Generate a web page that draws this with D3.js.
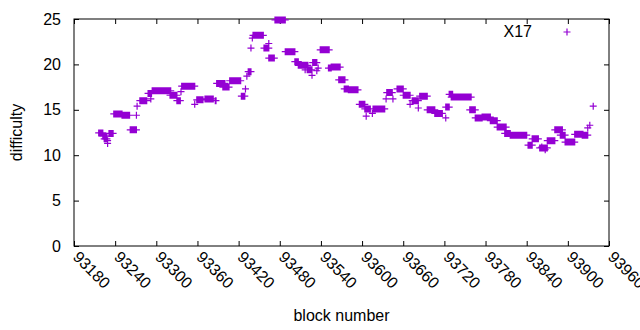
<!DOCTYPE html>
<html>
<head>
<meta charset="utf-8">
<script src="https://cdn.jsdelivr.net/npm/d3@7"></script>
<style>
  body { margin: 0; background: #fff; }
  text { font-family: "Liberation Sans", Arial, sans-serif; font-size: 16px; fill: #000; }
</style>
</head>
<body>
<div id="chart"></div>
<script>
// difficulty plateaus: first block, last block, difficulty
let runStart = [93216, 93222, 93224, 93229, 93229, 93231, 93238, 93250, 93271, 93262, 93272, 93276, 93292, 93288,
  93294, 93320, 93330, 93336, 93337, 93356, 93359, 93371, 93386, 93388, 93397, 93407, 93424, 93430, 93432, 93434,
  93438, 93440, 93441, 93457, 93464, 93464, 93473, 93488, 93502, 93507, 93517, 93520, 93527, 93528, 93536, 93534,
  93539, 93551, 93555, 93566, 93574, 93580, 93596, 93604, 93606, 93615, 93616, 93635, 93636, 93645, 93651, 93660,
  93670, 93673, 93682, 93684, 93695, 93706, 93722, 93722, 93727, 93730, 93757, 93765, 93775, 93787, 93797, 93808,
  93816, 93842, 93848, 93862, 93859, 93867, 93870, 93881, 93889, 93896, 93910, 93921, 93929, 93932, 93937];
let runEnd = [93222, 93228, 93228, 93229, 93229, 93237, 93250, 93261, 93271, 93271, 93272, 93286, 93292, 93293,
  93321, 93330, 93335, 93336, 93356, 93356, 93368, 93383, 93387, 93400, 93406, 93423, 93429, 93430, 93432, 93438,
  93438, 93440, 93456, 93464, 93464, 93472, 93488, 93502, 93507, 93521, 93517, 93527, 93527, 93534, 93536, 93534,
  93552, 93555, 93568, 93575, 93580, 93594, 93604, 93612, 93606, 93615, 93633, 93635, 93644, 93645, 93660, 93670,
  93670, 93682, 93682, 93695, 93706, 93717, 93722, 93727, 93732, 93759, 93765, 93775, 93787, 93797, 93810, 93816,
  93840, 93848, 93857, 93862, 93870, 93867, 93881, 93892, 93896, 93910, 93922, 93929, 93929, 93932, 93937];
let runDiff = [12.45, 12.1, 11.8, 11.6, 11.3, 12.4, 14.55, 14.4, 14.4, 12.8, 15.4, 16.0, 16.2, 16.8,
  17.1, 16.6, 16.0, 17.0, 17.6, 15.6, 16.1, 16.2, 16.0, 17.9, 17.5, 18.2, 16.5, 17.3, 18.7, 19.2,
  21.8, 22.9, 23.2, 21.8, 22.3, 20.7, 24.9, 21.4, 20.3, 19.9, 19.4, 19.4, 18.8, 20.2, 19.6, 19.3,
  21.6, 19.6, 19.7, 18.3, 17.3, 17.2, 15.6, 15.1, 14.3, 14.6, 15.1, 16.2, 16.9, 16.2, 17.3, 16.6,
  15.6, 16.0, 15.2, 16.5, 15.0, 14.6, 14.1, 15.3, 16.7, 16.4, 15.0, 14.1, 14.2, 13.8, 13.1, 12.4,
  12.2, 11.1, 11.8, 10.9, 10.8, 10.6, 11.6, 12.8, 12.2, 11.45, 12.3, 12.2, 13.0, 13.3, 15.4];

let xTicks = [93180, 93240, 93300, 93360, 93420, 93480, 93540, 93600, 93660, 93720, 93780, 93840, 93900, 93960];
let yTicks = [0, 5, 10, 15, 20, 25];
let seriesName = "X17";
let color = "#9400d3";

// one point per block
let points = [];
runStart.forEach(function(s, i) {
  for (let b = s; b <= runEnd[i]; b++) points.push({block: b, diff: runDiff[i]});
});

let svg = d3.select("#chart").append("svg")
  .attr("width", 640)
  .attr("height", 330);

let margin = {top: 19, right: 31, bottom: 84, left: 74};
let x0 = margin.left, x1 = 640 - margin.right, y0 = margin.top, y1 = 330 - margin.bottom;

let x = d3.scaleLinear().domain([93180, 93960]).range([x0, x1]);
let y = d3.scaleLinear().domain([0, 25]).range([y1, y0]);

let tick = 5;

// ticks, inward and mirrored
let xAxisB = d3.axisBottom(x).tickValues(xTicks).tickSize(-tick).tickFormat("");
let xAxisT = d3.axisTop(x).tickValues(xTicks).tickSize(-tick).tickFormat("");
let yAxisL = d3.axisLeft(y).tickValues(yTicks).tickSize(-tick).tickFormat("");
let yAxisR = d3.axisRight(y).tickValues(yTicks).tickSize(-tick).tickFormat("");

svg.append("g").attr("transform", "translate(0," + y1 + ")").call(xAxisB);
svg.append("g").attr("transform", "translate(0," + y0 + ")").call(xAxisT);
svg.append("g").attr("transform", "translate(" + x0 + ",0)").call(yAxisL);
svg.append("g").attr("transform", "translate(" + x1 + ",0)").call(yAxisR);
svg.selectAll(".domain").remove();
svg.selectAll(".tick line").attr("stroke", "#000");

svg.append("rect")
  .attr("x", x0).attr("y", y0)
  .attr("width", x1 - x0).attr("height", y1 - y0)
  .attr("fill", "none").attr("stroke", "#000").attr("stroke-width", 1);

// y tick labels
svg.append("g").selectAll("text")
  .data(yTicks)
  .enter().append("text")
  .attr("x", x0 - 13)
  .attr("y", function(d) { return y(d) + 5.5; })
  .attr("text-anchor", "end")
  .text(function(d) { return d; });

// x tick labels, rotated
svg.append("g").selectAll("text")
  .data(xTicks)
  .enter().append("text")
  .attr("transform", function(d) { return "translate(" + (x(d) - 2) + "," + (y1 + 12) + ") rotate(45)"; })
  .attr("text-anchor", "start")
  .text(function(d) { return d; });

svg.append("text")
  .attr("x", (x0 + x1) / 2)
  .attr("y", 321)
  .attr("text-anchor", "middle")
  .text("block number");

svg.append("text")
  .attr("transform", "translate(22," + ((y0 + y1) / 2) + ") rotate(-90)")
  .attr("text-anchor", "middle")
  .text("difficulty");

let plus = function(px, py) {
  return "M" + (px - 3.5) + "," + py + "H" + (px + 3.5) + "M" + px + "," + (py - 3.5) + "V" + (py + 3.5);
};

svg.append("path")
  .attr("d", points.map(function(d) { return plus(x(d.block), y(d.diff)); }).join(""))
  .attr("fill", "none")
  .attr("stroke", color)
  .attr("stroke-width", 1.2);

// legend
svg.append("text")
  .attr("x", 532)
  .attr("y", 37)
  .attr("text-anchor", "end")
  .text(seriesName);
svg.append("path")
  .attr("d", plus(567, 32))
  .attr("fill", "none")
  .attr("stroke", color)
  .attr("stroke-width", 1.2);
</script>
</body>
</html>
